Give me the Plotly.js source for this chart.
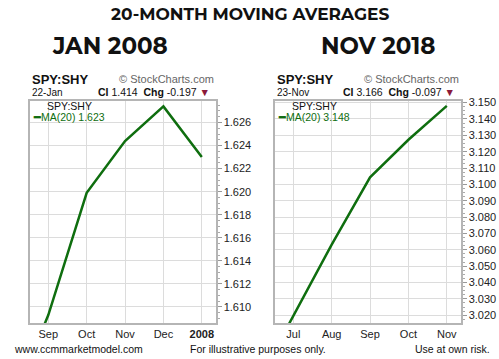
<!DOCTYPE html>
<html><head><meta charset="utf-8">
<script src="https://cdn.plot.ly/plotly-3.0.1.min.js"></script>
<style>html,body{margin:0;padding:0;background:#fff;}#chart{width:499px;height:359px;}</style>
</head><body><div id="chart"></div>
<script>
// Left chart: Jan 2008 (month index: -1=Aug 2007, 0=Sep ... 4=Jan 2008)
const leftMonths = [-1, 0, 1, 2, 3, 4];
const leftMA = [1.6012, 1.6093, 1.6199, 1.6244, 1.6274, 1.6230];
const leftTickVals = [0, 1, 2, 3, 4];
const leftTickText = ['Sep', 'Oct', 'Nov', 'Dec', '<b>2008</b>'];
const leftYTicks = [1.610, 1.612, 1.614, 1.616, 1.618, 1.620, 1.622, 1.624, 1.626];

// Right chart: Nov 2018 (month index: -1=Jun, 0=Jul ... 4=Nov)
const rightMonths = [-1, 0, 1, 2, 3, 4];
const rightMA = [2.976, 3.0191, 3.0631, 3.1043, 3.1273, 3.148];
const rightTickVals = [0, 1, 2, 3, 4];
const rightTickText = ['Jul', 'Aug', 'Sep', 'Oct', 'Nov'];
const rightYTicks = [3.020, 3.030, 3.040, 3.050, 3.060, 3.070, 3.080, 3.090, 3.100, 3.110, 3.120, 3.130, 3.140, 3.150];

const W = 499, H = 359;
const px = x => x / W, py = y => 1 - y / H;
const green = '#0f6e0f';
const tickFont = {family: 'Liberation Sans, Arial', size: 11, color: '#222'};

function xax(domain, vals, text, range) {
  return {domain: domain, range: range, tickvals: vals, ticktext: text, showgrid: true,
    gridcolor: '#dcdcdc', gridwidth: 1, zeroline: false, showline: true, linecolor: '#b5b5b5',
    linewidth: 1.5, mirror: true, ticks: '', tickfont: tickFont, fixedrange: true};
}
function yax(domain, vals, range, fmt, anchor, minorD) {
  return {domain: domain, range: range, tickvals: vals, tickformat: fmt, side: 'right',
    anchor: anchor, showgrid: true, gridcolor: '#dcdcdc', zeroline: false, showline: true,
    linecolor: '#b5b5b5', linewidth: 1.5, mirror: true, ticks: 'outside', ticklen: 4,
    tickcolor: '#999', tickfont: tickFont, fixedrange: true,
    minor: {ticks: 'outside', ticklen: 2, tickcolor: '#aaa', dtick: minorD, showgrid: false}};
}

const yDom = [py(323), py(100.5)];
const data = [
  {x: leftMonths, y: leftMA, type: 'scatter', mode: 'lines', xaxis: 'x', yaxis: 'y',
   line: {color: green, width: 2.5}, hoverinfo: 'skip'},
  {x: rightMonths, y: rightMA, type: 'scatter', mode: 'lines', xaxis: 'x2', yaxis: 'y2',
   line: {color: green, width: 2.5}, hoverinfo: 'skip'}
];

const ann = [];
function t(x, y, text, size, opts) {
  ann.push(Object.assign({xref: 'paper', yref: 'paper', x: px(x), y: py(y), text: text,
    showarrow: false, xanchor: 'left', yanchor: 'middle',
    font: {family: 'Liberation Sans, Arial', size: size, color: '#111'}}, opts || {}));
}
const titleFont = f => ({family: 'Montserrat, Lato, Open Sans, sans-serif', size: f, color: '#111', weight: 700});
t(249.5, 14, '<b>20-MONTH MOVING AVERAGES</b>', 17, {xanchor: 'center', font: titleFont(17)});
t(110, 46, '<b>JAN 2008</b>', 23, {xanchor: 'center', font: titleFont(23)});
t(378, 46, '<b>NOV 2018</b>', 23, {xanchor: 'center', font: titleFont(23)});

function header(x0, x1, sym, date, ci, chg) {
  t(x0, 79, '<b>SPY:SHY</b>', 13);
  t(x1, 79, '© StockCharts.com', 11, {xanchor: 'right', font: {family: 'Liberation Sans, Arial', size: 11, color: '#666'}});
  t(x0, 92, date, 10);
  t(x1 - 4, 92, '<b>CI</b> ' + ci + '  <b>Chg</b> ' + chg + ' <span style="color:#8b1a3a">▼</span>', 10.5, {xanchor: 'right'});
  t(x0 + 15, 106, 'SPY:SHY', 10.5);
  t(x0 + 1, 117, '<b>━</b>MA(20) ' + sym, 10, {font: {family: 'Liberation Sans, Arial', size: 10.5, color: green}});
}
header(29.5, 216, '1.623', '22-Jan', '1.414', '-0.197');
header(274.5, 461, '3.148', '23-Nov', '3.166', '-0.097');

t(12, 349, 'www.ccmmarketmodel.com', 10.5);
t(188, 349, 'For illustrative purposes only.', 10.5);
t(492, 349, 'Use at own risk.', 10.5, {xanchor: 'right'});

const layout = {
  width: W, height: H, margin: {l: 0, r: 0, t: 0, b: 0}, showlegend: false,
  paper_bgcolor: '#fff', plot_bgcolor: '#fff',
  xaxis: xax([px(29.5), px(216)], leftTickVals, leftTickText, [-0.49, 4.37]),
  yaxis: yax(yDom, leftYTicks, [1.60861, 1.62791], '.3f', 'x', 0.0005),
  xaxis2: Object.assign(xax([px(274.5), px(461)], rightTickVals, rightTickText, [-0.49, 4.37]), {anchor: 'y2'}),
  yaxis2: yax(yDom, rightYTicks, [3.01523, 3.1513], '.3f', 'x2', 0.0025),
  annotations: ann
};
layout.xaxis.anchor = 'y';
Plotly.newPlot('chart', data, layout, {staticPlot: true});
</script></body></html>
